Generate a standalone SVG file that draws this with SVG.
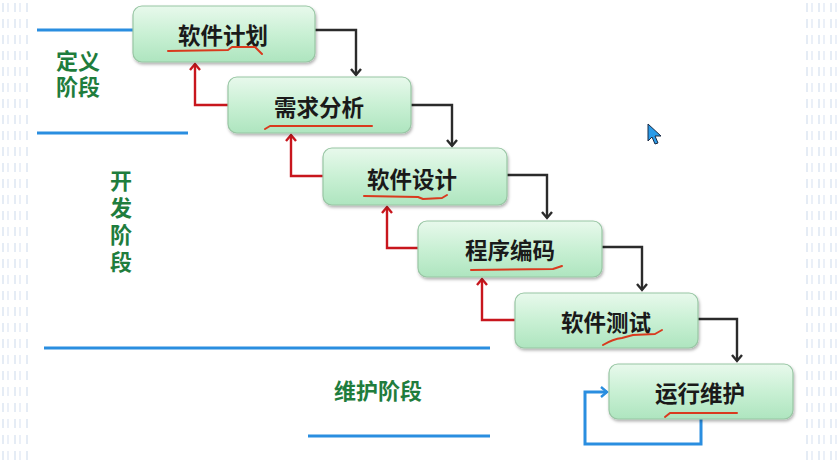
<svg xmlns="http://www.w3.org/2000/svg" width="838" height="463" viewBox="0 0 838 463">
<defs>
<linearGradient id="boxg" x1="0" y1="0" x2="0" y2="1">
<stop offset="0" stop-color="#e8f9ec"/>
<stop offset="0.5" stop-color="#c9f0d4"/>
<stop offset="1" stop-color="#aee5bf"/>
</linearGradient>
<filter id="sh" x="-10%" y="-10%" width="120%" height="130%">
<feDropShadow dx="1" dy="2" stdDeviation="1.5" flood-color="#000" flood-opacity="0.3"/>
</filter>
<pattern id="dots" width="12" height="16" patternUnits="userSpaceOnUse">
<rect x="2" y="3" width="2" height="9" fill="#dfe7f3"/>
<rect x="7" y="3" width="2" height="9" fill="#e6ecf6"/>
</pattern>
<marker id="mk" markerWidth="12" markerHeight="12" refX="6" refY="10" orient="0" markerUnits="userSpaceOnUse" viewBox="0 0 12 12">
<path d="M1,4 L6,10 L11,4" fill="none" stroke="#2b2b2b" stroke-width="2.4"/>
</marker>
<marker id="mr" markerWidth="12" markerHeight="12" refX="6" refY="2" orient="0" markerUnits="userSpaceOnUse" viewBox="0 0 12 12">
<path d="M1,8 L6,2 L11,8" fill="none" stroke="#c8161d" stroke-width="2.4"/>
</marker>
<marker id="mb" markerWidth="12" markerHeight="12" refX="10" refY="6" orient="0" markerUnits="userSpaceOnUse" viewBox="0 0 12 12">
<path d="M4,1 L10,6 L4,11" fill="none" stroke="#2a8ee0" stroke-width="2.4"/>
</marker>
</defs>
<style>
.box{fill:url(#boxg);stroke:#98c6a4;stroke-width:1.2;filter:url(#sh)}
.lbl{font-family:"Noto Sans CJK SC","Noto Sans",sans-serif;font-weight:700;font-size:22.5px;fill:#1a1a1a;text-anchor:middle;dominant-baseline:central}
.ph{font-family:"Noto Sans CJK SC","Noto Sans",sans-serif;font-weight:700;font-size:22px;fill:#1f7d3d;text-anchor:middle}
.blk{fill:none;stroke:#2b2b2b;stroke-width:2.4;marker-end:url(#mk)}
.red{fill:none;stroke:#c8161d;stroke-width:2.4;marker-end:url(#mr)}
.blu{fill:none;stroke:#2a8ee0;stroke-width:3}
.ul{fill:none;stroke:#d93a1e;stroke-width:2;stroke-linecap:round;stroke-linejoin:round}
</style>
<rect width="838" height="463" fill="#ffffff"/>
<rect x="0" y="0" width="28" height="463" fill="url(#dots)" opacity="0.8"/>
<rect x="802" y="0" width="36" height="463" fill="url(#dots)" opacity="0.8"/>

<g id="phases">
<line class="blu" x1="37" y1="30" x2="133" y2="30"/>
<line class="blu" x1="37" y1="133" x2="188" y2="133"/>
<line class="blu" x1="44" y1="348" x2="490" y2="348"/>
<line class="blu" x1="308" y1="436" x2="490" y2="436"/>
<text class="ph" x="78" y="69">定义<tspan x="78" dy="26">阶段</tspan></text>
<text class="ph" x="121" y="170" style="writing-mode:vertical-rl;text-anchor:start;letter-spacing:5px">开发阶段</text>
<text class="ph" x="378" y="399">维护阶段</text>
</g>

<g id="connectors">
<path class="blk" d="M315,30 H356 V75"/>
<path class="blk" d="M411,105 H452 V146"/>
<path class="blk" d="M507,175 H547 V218"/>
<path class="blk" d="M602,247 H642 V290"/>
<path class="blk" d="M697,319 H737 V361"/>
<path class="red" d="M228,105 H195 V64"/>
<path class="red" d="M323,176 H291 V135"/>
<path class="red" d="M418,248 H387 V207"/>
<path class="red" d="M515,320 H482 V279"/>
<path class="blu" marker-end="url(#mb)" d="M701,419 V444 H585 V392 H607"/>
</g>

<g id="n1">
<rect class="box" x="133" y="6" width="182" height="56" rx="9"/>
<text class="lbl" x="223" y="34">软件计划</text>
<path class="ul" d="M168,51 L228,50 L232,47 L255,47 L262,54"/>
</g>
<g id="n2">
<rect class="box" x="228" y="77" width="183" height="56" rx="9"/>
<text class="lbl" x="319" y="106">需求分析</text>
<path class="ul" d="M265,129 L270,126 L372,126"/>
</g>
<g id="n3">
<rect class="box" x="323" y="148" width="184" height="57" rx="9"/>
<text class="lbl" x="412" y="178">软件设计</text>
<path class="ul" d="M364,196 L418,197 L423,199 L442,198 L447,195"/>
</g>
<g id="n4">
<rect class="box" x="418" y="221" width="184" height="56" rx="9"/>
<text class="lbl" x="510" y="249">程序编码</text>
<path class="ul" d="M471,270 L553,269 L562,266"/>
</g>
<g id="n5">
<rect class="box" x="515" y="293" width="183" height="55" rx="9"/>
<text class="lbl" x="606" y="321">软件测试</text>
<path class="ul" d="M603,345 Q613,339 622,338 L633,335 L655,334 L662,330"/>
</g>
<g id="n6">
<rect class="box" x="609" y="364" width="184" height="55" rx="9"/>
<text class="lbl" x="700" y="392">运行维护</text>
<path class="ul" d="M665,417 L670,413 L737,413"/>
</g>

<g id="cursor">
<path d="M648,124 L648,141 L652,137 L655,144 L658,143 L655,136 L661,136 Z" fill="#2a9be8" stroke="#1a2a44" stroke-width="1"/>
</g>
</svg>
